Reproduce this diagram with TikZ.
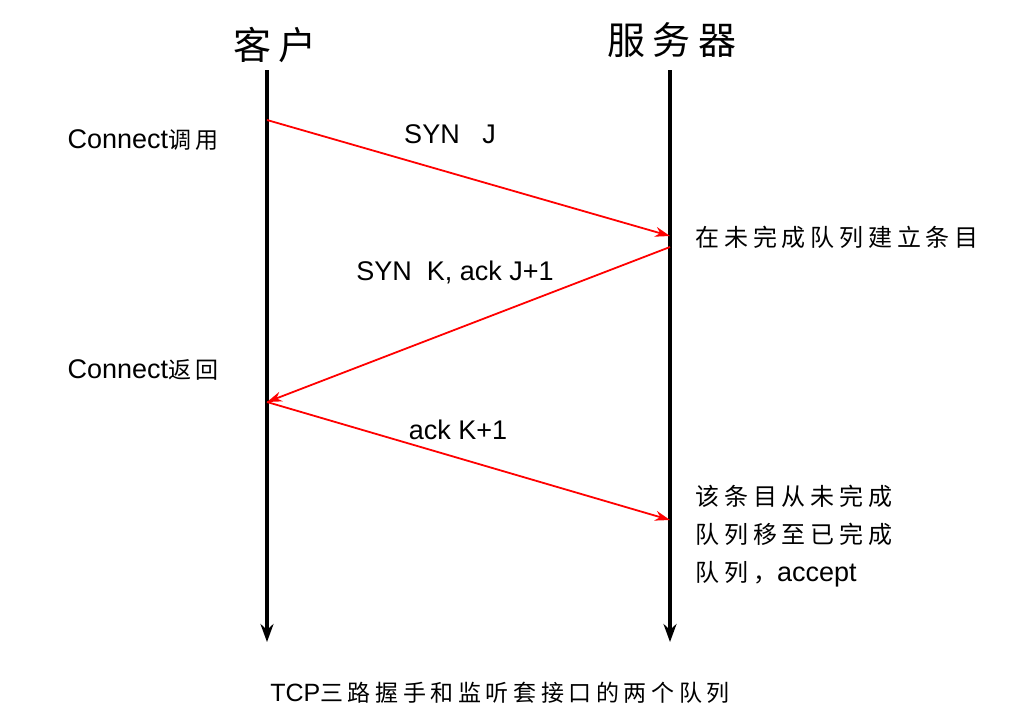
\documentclass[tikz,border=0pt]{standalone}
\usetikzlibrary{arrows.meta}
\usepackage{fontspec}
\setmainfont{Liberation Sans}
\newfontfamily\cjk[LetterSpace=20]{Noto Sans CJK SC}
\newfontfamily\cjkh[LetterSpace=20]{Noto Sans CJK SC}
\begin{document}
\begin{tikzpicture}[x=1pt,y=-1pt,
  life/.style={line width=3.5pt,-{Stealth[length=18pt,width=13pt]}},
  msg/.style={red,line width=1.8pt,-{Stealth[length=15pt,width=10pt]}},
  lab/.style={font=\fontsize{27}{28}\selectfont},
  cn/.style={font=\fontsize{24}{38}\selectfont\cjk,align=left,anchor=west}]
\useasboundingbox (0,0) rectangle (1024,723);
\node[font=\fontsize{38}{40}\selectfont\cjkh] (c) at (275,45) {客户};
\node[font=\fontsize{38}{40}\selectfont\cjkh] (s) at (672,40) {服务器};
\coordinate (ct) at (267,70); \coordinate (cb) at (267,642);
\coordinate (st) at (670,70); \coordinate (sb) at (670,642);
\draw[life] (ct) -- (cb);
\draw[life] (st) -- (sb);
\coordinate (a1) at (267,120); \coordinate (b1) at (670,236);
\coordinate (b2) at (670,247); \coordinate (a2) at (267,402);
\coordinate (b3) at (670,520);
\draw[msg] (a1) -- (b1);
\draw[msg] (b2) -- (a2);
\draw[msg] (a2) -- (b3);
\node[lab] (m1) at (450,134) {SYN\ \ \ J};
\node[lab] (m2) at (455,272) {SYN\ \ K,\ ack J+1};
\node[lab] (m3) at (458,430) {ack K+1};
\node[lab,anchor=west] (l1) at (64,140) {Connect{\cjk\fontsize{23}{24}\selectfont 调用}};
\node[lab,anchor=west] (l2) at (64,370) {Connect{\cjk\fontsize{23}{24}\selectfont 返回}};
\node[cn] (r1) at (692,237) {在未完成队列建立条目};
\node[cn] (r2) at (692,536) {该条目从未完成\\队列移至已完成\\队列，{\fontspec{Liberation Sans}\fontsize{27}{28}\selectfont accept}};
\node[font=\fontsize{25}{26}\selectfont] (cap) at (500,693) {TCP{\cjk\fontsize{23}{24}\selectfont 三路握手和监听套接口的两个队列}};
\end{tikzpicture}
\end{document}
